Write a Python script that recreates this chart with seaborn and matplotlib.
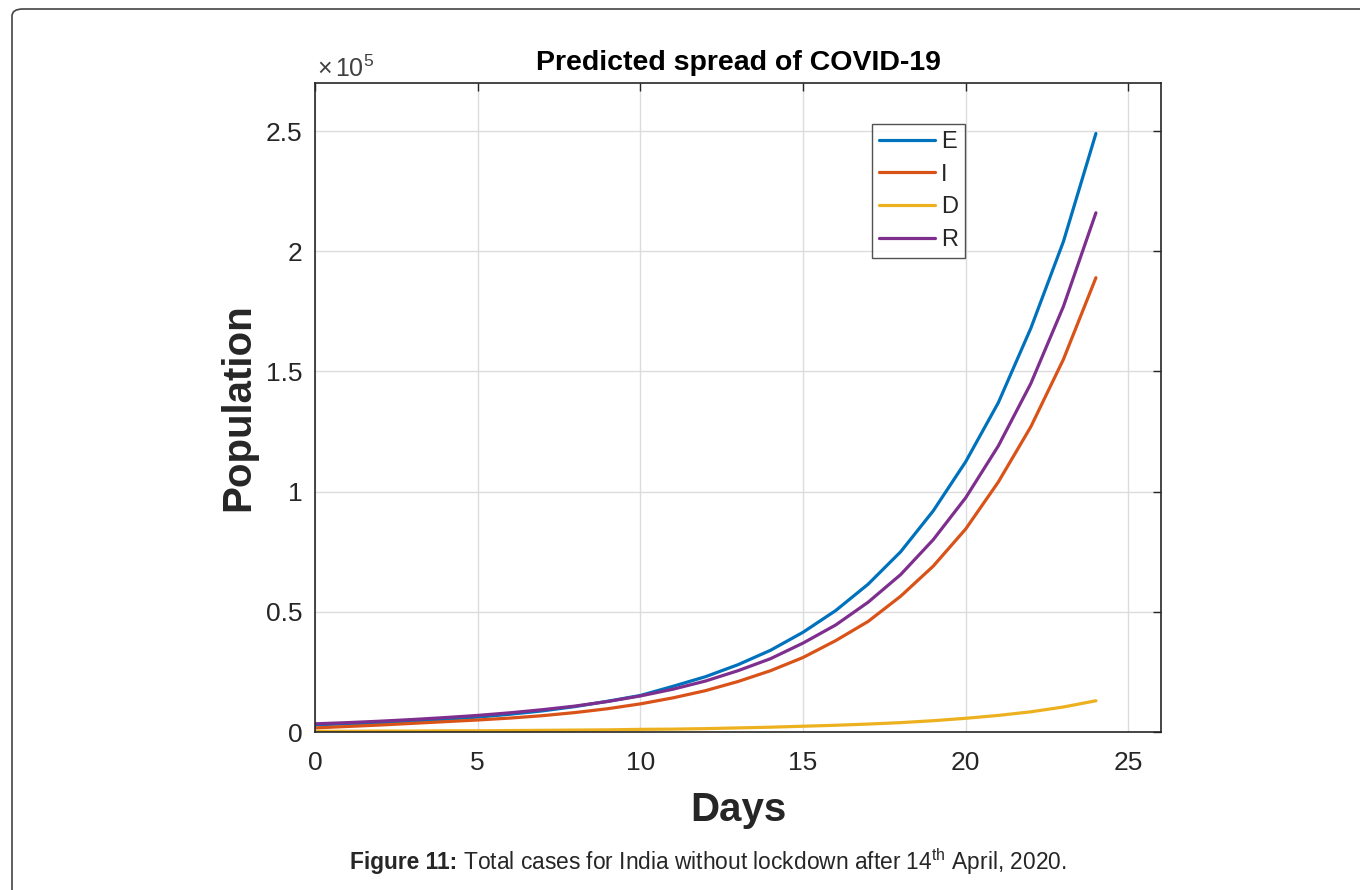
import numpy as np
import pandas as pd
import matplotlib
matplotlib.use("Agg")
import matplotlib.pyplot as plt
import seaborn as sns
from matplotlib.patches import FancyBboxPatch

# ---- data (values in units of 1e5) ----
days = list(range(25))
E = [0.030, 0.034, 0.039, 0.045, 0.053, 0.062, 0.074, 0.088, 0.106, 0.128,
     0.152, 0.19, 0.23, 0.28, 0.34, 0.415, 0.505, 0.615, 0.75, 0.92,
     1.125, 1.37, 1.68, 2.04, 2.49]
I = [0.017, 0.023, 0.029, 0.036, 0.043, 0.050, 0.058, 0.068, 0.081, 0.097,
     0.117, 0.142, 0.172, 0.21, 0.255, 0.31, 0.38, 0.46, 0.565, 0.69,
     0.845, 1.04, 1.27, 1.55, 1.89]
D = [0.003, 0.003, 0.004, 0.004, 0.005, 0.005, 0.006, 0.007, 0.008, 0.009,
     0.011, 0.012, 0.014, 0.017, 0.020, 0.024, 0.028, 0.033, 0.039, 0.047,
     0.057, 0.069, 0.084, 0.104, 0.13]
R = [0.034, 0.039, 0.045, 0.052, 0.060, 0.069, 0.080, 0.093, 0.108, 0.127,
     0.150, 0.178, 0.212, 0.255, 0.305, 0.37, 0.445, 0.54, 0.655, 0.80,
     0.975, 1.19, 1.45, 1.77, 2.16]
series_names = ["E", "I", "D", "R"]
colors = ["#0072BD", "#D95319", "#EDB120", "#7E2F8E"]
x_ticks = [0, 5, 10, 15, 20, 25]
y_ticks = [0, 0.5, 1, 1.5, 2, 2.5]
y_tick_labels = ["0", "0.5", "1", "1.5", "2", "2.5"]

df = pd.DataFrame({
    "Days": days * 4,
    "Population": E + I + D + R,
    "series": sum([[n] * len(days) for n in series_names], []),
})

sns.set_theme(style="white")
plt.rcParams["font.family"] = ["Liberation Sans", "DejaVu Sans"]
plt.rcParams["mathtext.fontset"] = "custom"
plt.rcParams["mathtext.rm"] = "Liberation Sans"
plt.rcParams["mathtext.it"] = "Liberation Sans:italic"
plt.rcParams["mathtext.bf"] = "Liberation Sans:bold"

fig = plt.figure(figsize=(13.6, 8.9), dpi=100)
ax = fig.add_axes([315/1360, 1 - 732/890, (1161-315)/1360, (732-83)/890])

sns.lineplot(data=df, x="Days", y="Population", hue="series",
             hue_order=series_names, palette=colors, linewidth=2.3, ax=ax,
             legend=True)

ax.set_xlim(0, 26)
ax.set_ylim(0, 2.7)
ax.set_xticks(x_ticks)
ax.set_yticks(y_ticks)
ax.set_yticklabels(y_tick_labels)
ax.grid(True, color="#dcdcdc", linewidth=1.0)
ax.set_axisbelow(True)
ax.tick_params(axis="both", direction="in", length=6, width=1, colors="#262626",
               labelsize=19, top=True, right=True)
ax.tick_params(axis="x", pad=14)
ax.tick_params(axis="y", pad=9)
for s in ax.spines.values():
    s.set_color("#262626")
    s.set_linewidth(1.2)

ax.set_xlabel("Days", fontsize=29, fontweight="bold", color="#262626", labelpad=11)
ax.set_ylabel("Population", fontsize=29, fontweight="bold", color="#262626", labelpad=6)
ax.set_title("Predicted spread of COVID-19", fontsize=20.5, fontweight="bold",
             color="black", pad=9)

ax.text(0.002, 1.009, r"$\times\,10^{5}$", transform=ax.transAxes, fontsize=18,
        color="#404040", ha="left", va="baseline")

leg = ax.legend(loc="upper left", bbox_to_anchor=(0.658, 0.937), fontsize=17,
                frameon=True, fancybox=False, handlelength=2.4, handletextpad=0.25,
                borderpad=0.3, labelspacing=0.45, borderaxespad=0)
leg.get_frame().set_edgecolor("#262626")
leg.get_frame().set_linewidth(1.0)

# caption, centred
fig.canvas.draw()
r = fig.canvas.get_renderer()
cy = 1 - 862/890
t1 = fig.text(0, cy, "Figure 11:", fontsize=16.4, fontweight="bold",
              ha="left", va="center")
t2 = fig.text(0, cy,
              r" Total cases for India without lockdown after 14$^{\mathrm{th}}$ April, 2020.",
              fontsize=16.4, ha="left", va="center")
w1 = t1.get_window_extent(r).width
w2 = t2.get_window_extent(r).width
x0 = 708 - (w1 + w2) / 2
t1.set_x(x0 / 1360)
t2.set_x((x0 + w1) / 1360)

# outer rounded border (top-left corner visible)
border = FancyBboxPatch((12/1360, -0.05), 1.2, 1 - 9/890 + 0.05,
                        boxstyle="round,pad=0,rounding_size=0.008",
                        transform=fig.transFigure, fill=False,
                        edgecolor="#444444", linewidth=1.2, clip_on=False)
fig.patches.append(border)

fig.savefig("out.png", dpi=100)
